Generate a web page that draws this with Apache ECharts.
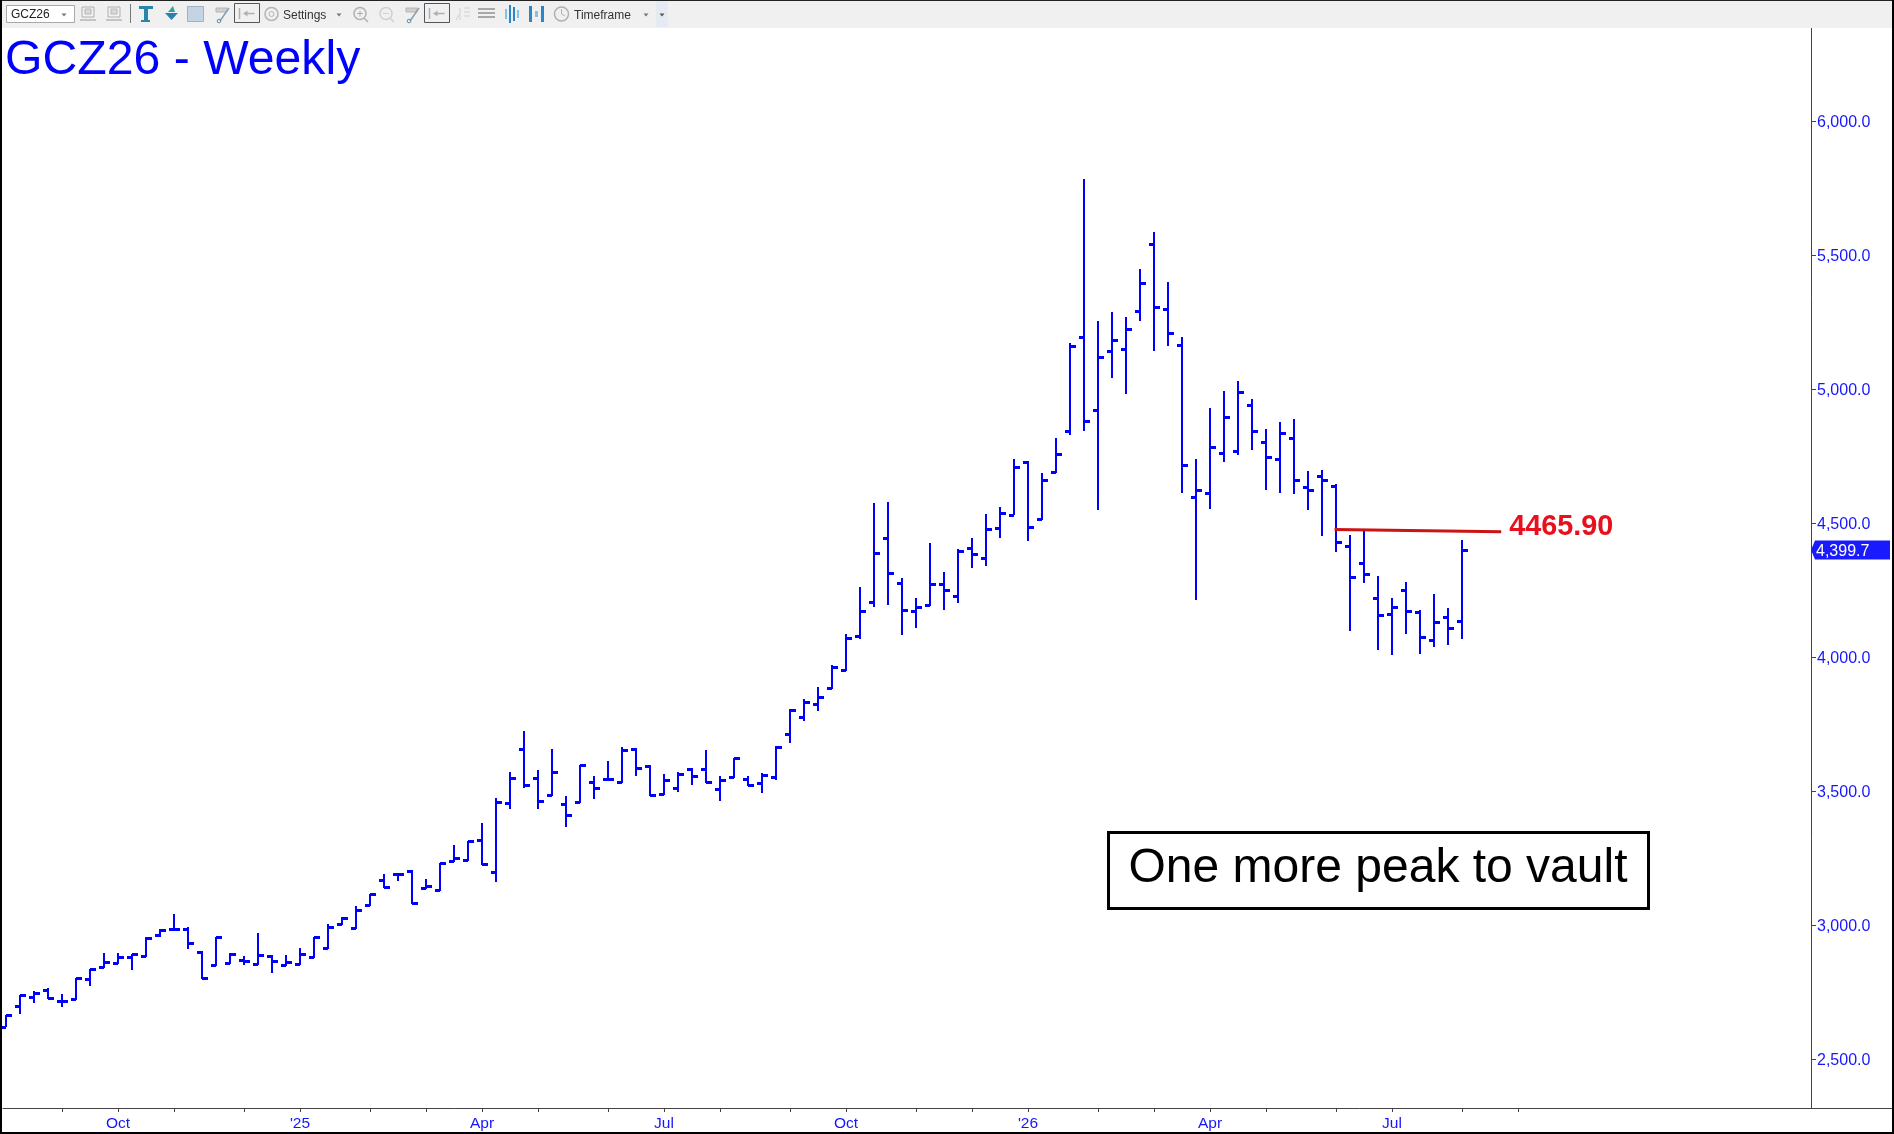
<!DOCTYPE html>
<html>
<head>
<meta charset="utf-8">
<title>GCZ26 - Weekly</title>
<style>html,body{margin:0;padding:0;background:#fff}#chart{width:1894px;height:1134px}</style>
<script src="https://cdn.jsdelivr.net/npm/echarts@6/dist/echarts.min.js"></script>
</head>
<body>
<div id="chart"></div>
<script>
const symbolName = "GCZ26";
const titleText = "GCZ26 - Weekly";
const noteText = "One more peak to vault";
const levelText = "4465.90";

// Weekly bars, oldest first.
const opens = [2621,2698,2732,2759,2717,2723,2799,2842,2860,2881,2883,2962,2984,2984,2899,2850,2857,2868,2853,2883,2850,2853,2880,2913,3003,2988,3074,3167,3189,3200,3137,3130,3238,3241,3316,3197,3454,3656,3547,3484,3450,3458,3532,3544,3532,3656,3592,3488,3510,3581,3581,3506,3551,3544,3529,3551,3712,3775,3824,3883,3950,4077,4204,4443,4275,4170,4193,4271,4226,4406,4368,4480,4529,4726,4514,4689,4842,5193,4920,5141,5148,5290,5540,5297,5163,4596,4611,4760,4768,4940,4801,4738,4816,4633,4674,4637,4413,4350,4219,4160,4249,4167,4062,4148,4133];
const highs = [2664,2739,2755,2764,2742,2802,2837,2895,2895,2893,2954,2985,3041,2991,2902,2957,2895,2886,2969,2887,2887,2913,2957,3003,3029,3070,3117,3190,3193,3204,3172,3231,3299,3314,3381,3473,3571,3724,3579,3657,3481,3597,3556,3612,3664,3659,3597,3562,3570,3585,3652,3555,3625,3555,3566,3667,3805,3842,3887,3969,4085,4260,4573,4577,4294,4219,4424,4316,4402,4443,4532,4559,4738,4730,4685,4816,5170,5784,5254,5287,5269,5448,5586,5399,5194,4739,4929,4993,5030,4963,4851,4877,4888,4694,4698,4646,4455,4471,4302,4220,4280,4176,4235,4183,4437];
const lows = [2621,2667,2710,2724,2695,2720,2774,2840,2855,2834,2881,2954,2982,2909,2799,2847,2853,2852,2850,2822,2846,2850,2876,2909,3000,2984,3071,3137,3166,3077,3133,3126,3234,3238,3223,3161,3433,3511,3433,3481,3367,3454,3472,3541,3529,3557,3480,3484,3498,3524,3529,3464,3547,3518,3494,3540,3680,3763,3800,3880,3947,4068,4188,4195,4083,4110,4189,4177,4203,4333,4341,4445,4529,4434,4511,4685,4830,4845,4549,5042,4983,5254,5142,5161,4612,4213,4552,4728,4754,4773,4623,4612,4608,4549,4452,4392,4097,4277,4026,4008,4086,4011,4037,4045,4067];
const closes = [2664,2739,2746,2727,2717,2801,2835,2862,2880,2891,2952,2980,2984,2932,2801,2954,2891,2865,2887,2865,2861,2892,2954,2992,3025,3055,3115,3141,3189,3081,3144,3230,3249,3312,3227,3458,3547,3521,3462,3570,3409,3596,3510,3544,3652,3585,3484,3540,3562,3555,3532,3540,3622,3521,3559,3663,3801,3831,3850,3962,4070,4170,4387,4312,4174,4185,4271,4249,4394,4383,4476,4536,4708,4484,4659,4756,5159,4879,5118,5182,5223,5394,5305,5208,4715,4622,4783,4894,4988,4842,4745,4835,4659,4622,4659,4428,4298,4309,4156,4186,4171,4074,4130,4107,4399.7];

// Resistance line: [bar position, price].
const levelLine = [[94.9,4476],[106.8,4467]];

// Axis ticks.
const priceTicks = [2500,3000,3500,4000,4500,5000,5500,6000];
const monthTickBars = [4,8,12,17,21,26,30,34,38,43,47,51,56,60,65,69,73,78,82,86,90,95,99,104,108];
const labelBars = [8,21,34,47,60,73,86,99];
const labelTexts = ["Oct","'25","Apr","Jul","Oct","'26","Apr","Jul"];

const FONT = '"Liberation Sans", Arial, sans-serif';
const BLUE = '#0000ff';
const AXIS_BLUE = '#1616ff';
const AXIS_DARK = '#444444';

const barData = opens.map((o, i) => [i, o, highs[i], lows[i], closes[i]]);
const lastIdx = barData.length - 1;
const lastClose = closes[lastIdx];

function renderBar(params, api) {
  const x = Math.round(api.coord([api.value(0), 0])[0]);
  const yO = Math.round(api.coord([0, api.value(1)])[1]);
  const yH = Math.round(api.coord([0, api.value(2)])[1]);
  const yL = Math.round(api.coord([0, api.value(3)])[1]);
  const yC = Math.round(api.coord([0, api.value(4)])[1]);
  const st = { fill: BLUE };
  return {
    type: 'group',
    children: [
      { type: 'rect', shape: { x: x - 1, y: yH, width: 2, height: Math.max(yL - yH, 1) }, style: st },
      { type: 'rect', shape: { x: x - 5, y: yO - 1, width: 5, height: 3 }, style: st },
      { type: 'rect', shape: { x: x, y: yC - 1, width: 6, height: 3 }, style: st }
    ]
  };
}

function renderPriceTag(params, api) {
  const rect = params.coordSys;
  const xr = rect.x + rect.width;
  const y = api.coord([0, api.value(1)])[1];
  const label = api.value(1).toLocaleString('en-US', { minimumFractionDigits: 1, maximumFractionDigits: 1 });
  return {
    type: 'group',
    children: [
      { type: 'polygon', shape: { points: [[xr, y], [xr + 4, y - 9.5], [xr + 79, y - 9.5], [xr + 79, y + 9.5], [xr + 4, y + 9.5]] }, style: { fill: '#1a1aff' } },
      { type: 'text', style: { x: xr + 5, y: y + 1.5, text: label, fill: '#ffffff', font: '16px ' + FONT, textVerticalAlign: 'middle', textAlign: 'left' } }
    ]
  };
}

// Toolbar chrome helpers.
const g = [];
const R = (x, y, w, h, fill, stroke) => g.push({ type: 'rect', silent: true, shape: { x, y, width: w, height: h }, style: { fill: fill || 'none', stroke: stroke || 'none', lineWidth: 1 }, z: 50 });
const L = (x1, y1, x2, y2, c, w) => g.push({ type: 'line', silent: true, shape: { x1, y1, x2, y2 }, style: { stroke: c, lineWidth: w || 1 }, z: 50 });
const C = (cx, cy, r, c, w) => g.push({ type: 'circle', silent: true, shape: { cx, cy, r }, style: { fill: 'none', stroke: c, lineWidth: w || 1 }, z: 50 });
const T = (x, y, text, c, font) => g.push({ type: 'text', silent: true, style: { x, y, text, fill: c, font, textVerticalAlign: 'middle' }, z: 50 });
const P = (pts, c) => g.push({ type: 'polygon', silent: true, shape: { points: pts }, style: { fill: c }, z: 50 });
const caret = (x, c) => P([[x - 2.5, 13.5], [x + 2.5, 13.5], [x, 16.5]], c || '#777777');
const disk = (x) => { R(x + 2, 7, 12, 10, 'none', '#b0b0b0'); R(x + 5, 9, 6, 5, '#d8d8d8', '#b8b8b8'); L(x, 20, x + 16, 20, '#c4c4c4', 2); };
const pen = (x) => { R(x + 1, 8, 11, 4, '#cfcfcf', '#b5b5b5'); L(x + 14, 8, x + 5, 21, '#8aa0b0', 1.5); C(x + 4, 21, 1.8, '#5b8fb5', 1); };
const boxed = (x) => { R(x, 3.5, 25, 19, 'none', '#555555'); L(x + 5, 8, x + 5, 19, '#aab2b8', 1.5); L(x + 9, 13.5, x + 20, 13.5, '#aab2b8', 1.5); P([[x + 9, 13.5], [x + 13, 10.5], [x + 13, 16.5]], '#aab2b8'); };

R(0, 0, 1894, 28, '#f0f0f0');
R(6.5, 5.5, 68, 17, '#ffffff', '#a9a9a9');
T(11, 15, symbolName, '#222222', '12px ' + FONT);
caret(64);
disk(80); disk(106);
L(130.5, 4, 130.5, 23, '#777777', 1);
// T tool
R(139, 6, 14, 3, '#2a86a8'); R(144, 6, 4, 15, '#2a86a8'); R(141, 20, 9, 2, '#2a86a8');
// Arrow tool
P([[165, 13], [178, 13], [171.5, 20]], '#2a7fae'); P([[168, 12], [175, 12], [173, 6]], '#2fa39a');
// Grid tool
R(187.5, 6.5, 16, 15, '#c4d4e4', '#9fb2c4');
pen(215);
boxed(234.5);
// Gear
C(271.5, 14, 6.5, '#b4b4b4', 1.5); C(271.5, 14, 2.5, '#b4b4b4', 1);
T(283, 15.5, 'Settings', '#333333', '12px ' + FONT);
caret(339);
C(360, 13.5, 6, '#b0b0b0', 1.5); L(364, 18, 368, 22, '#b0b0b0', 1.5); L(357, 13.5, 363, 13.5, '#b0b0b0', 1); L(360, 10.5, 360, 16.5, '#b0b0b0', 1);
C(386, 13.5, 6, '#cfcfcf', 1.5); L(390, 18, 394, 22, '#cfcfcf', 1.5); L(383, 13.5, 389, 13.5, '#cfcfcf', 1);
pen(405);
boxed(424.5);
L(460, 8, 460, 20, '#d0d0d0', 1); L(464, 8, 470, 8, '#d0d0d0', 1); L(464, 12, 470, 12, '#d0d0d0', 1); L(464, 16, 470, 16, '#d0d0d0', 1); L(456, 20, 459, 15, '#d0d0d0', 1);
R(478, 8, 17, 2, '#a8a8a8'); R(478, 12, 17, 2, '#a8a8a8'); R(478, 16, 17, 2, '#a8a8a8');
R(505, 9, 2, 10, '#8ac0e0'); R(509, 5, 2, 18, '#2a86c8'); R(513, 7, 2, 14, '#2a86c8'); R(517, 10, 2, 8, '#8ac0e0');
R(529, 6, 3, 16, '#2a86c8'); R(535, 11, 3, 6, '#8ac0e0'); R(541, 6, 3, 16, '#2a86c8');
C(561.5, 14, 7, '#b0b0b0', 1.5); L(561.5, 14, 561.5, 9, '#b0b0b0', 1); L(561.5, 14, 565, 16, '#b0b0b0', 1);
T(574, 15.5, 'Timeframe', '#333333', '12px ' + FONT);
caret(646);
R(656, 1, 12, 26, '#e6ebf3');
caret(662, '#555555');

// Bottom axis rule across the price scale area.
L(1811, 1108.5, 1892, 1108.5, AXIS_DARK, 1);

// Window frame.
R(0, 0, 1894, 1, '#222222');
R(0, 0, 2, 1134, '#000000');
R(0, 1132, 1894, 2, '#000000');
R(1892, 0, 2, 1134, '#000000');

// Note box.
g.push({ type: 'rect', silent: true, shape: { x: 1108.5, y: 832.5, width: 540, height: 76 }, style: { fill: '#ffffff', stroke: '#000000', lineWidth: 3 }, z: 40 });
g.push({ type: 'text', silent: true, style: { x: 1378, y: 868.5, text: noteText, fill: '#000000', font: '48px ' + FONT, textAlign: 'center', textVerticalAlign: 'middle' }, z: 41 });

const chart = echarts.init(document.getElementById('chart'), null, { renderer: 'canvas' });
chart.setOption({
  animation: false,
  backgroundColor: '#ffffff',
  title: {
    text: titleText, left: 5, top: 37, padding: 0,
    textStyle: { color: BLUE, fontFamily: FONT, fontSize: 48.2, fontWeight: 'normal' }
  },
  grid: { left: 3, right: 83, top: 28, bottom: 26, containLabel: false },
  xAxis: {
    type: 'value',
    min: -3 / 14,
    max: 1805 / 14,
    splitLine: { show: false },
    axisLine: { show: true, onZero: false, lineStyle: { color: AXIS_DARK, width: 1 } },
    axisTick: { show: true, length: 4, customValues: monthTickBars, lineStyle: { color: AXIS_DARK } },
    axisLabel: {
      customValues: labelBars,
      margin: 8,
      color: AXIS_BLUE, fontFamily: FONT, fontSize: 15.5,
      formatter: (v) => labelTexts[labelBars.indexOf(v)] || ''
    }
  },
  yAxis: {
    type: 'value',
    position: 'right',
    min: 6451.4 - 3.731 * 1108,
    max: 6451.4 - 3.731 * 28,
    splitLine: { show: false },
    axisLine: { show: true, onZero: false, lineStyle: { color: AXIS_DARK, width: 1 } },
    axisTick: { show: true, length: 5, customValues: priceTicks, lineStyle: { color: AXIS_DARK } },
    axisLabel: {
      customValues: priceTicks,
      margin: 6,
      verticalAlign: 'top',
      lineHeight: 3,
      color: AXIS_BLUE, fontFamily: FONT, fontSize: 16,
      formatter: (v) => v.toLocaleString('en-US', { minimumFractionDigits: 1, maximumFractionDigits: 1 })
    }
  },
  series: [
    {
      name: 'GCZ26', type: 'custom', silent: true, clip: false,
      encode: { x: 0, y: [1, 2, 3, 4] },
      data: barData, renderItem: renderBar, z: 3
    },
    {
      name: 'Level', type: 'line', silent: true, showSymbol: false, symbol: 'none', z: 4,
      data: levelLine,
      lineStyle: { color: '#cc1414', width: 3 },
      endLabel: {
        show: true, formatter: levelText, distance: 8, offset: [0, -5],
        color: '#e8101c', fontFamily: FONT, fontWeight: 'bold', fontSize: 28.8
      }
    },
    {
      name: 'Last', type: 'custom', silent: true, clip: false, z: 5,
      encode: { x: 0, y: 1 },
      data: [[lastIdx, lastClose]], renderItem: renderPriceTag
    }
  ],
  graphic: { elements: g }
});
</script>
</body>
</html>
